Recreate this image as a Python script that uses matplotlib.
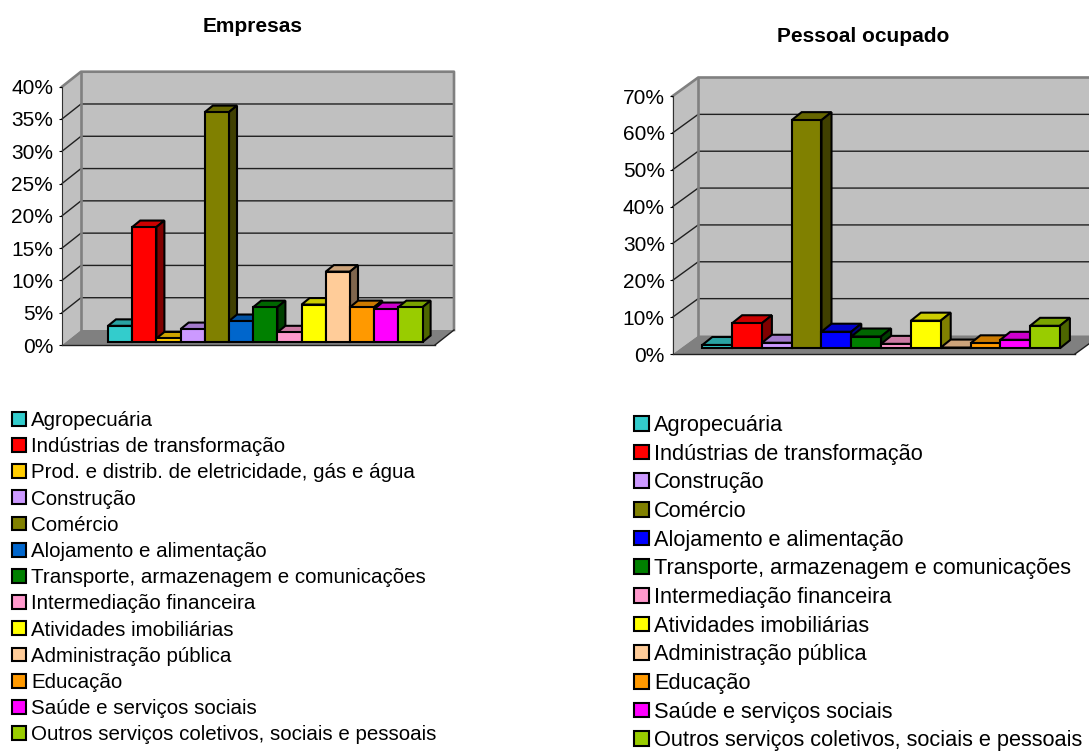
import matplotlib
matplotlib.use('Agg')
import matplotlib.pyplot as plt
from matplotlib.patches import Patch, Polygon

plt.rcParams['font.family'] = ['Liberation Sans', 'DejaVu Sans']

# Data
empresas_labels = ['Agropecuária', 'Indústrias de transformação',
                   'Prod. e distrib. de eletricidade, gás e água', 'Construção',
                   'Comércio', 'Alojamento e alimentação',
                   'Transporte, armazenagem e comunicações', 'Intermediação financeira',
                   'Atividades imobiliárias', 'Administração pública', 'Educação',
                   'Saúde e serviços sociais', 'Outros serviços coletivos, sociais e pessoais']
empresas_values = [2.5, 17.8, 0.55, 2.0, 35.6, 3.25, 5.4, 1.5, 5.8, 10.9, 5.4, 5.1, 5.4]
empresas_colors = ['#33CCCC', '#FF0000', '#FFCC00', '#CC99FF', '#808000', '#0066CC', '#008000',
                   '#FF99CC', '#FFFF00', '#FFCC99', '#FF9900', '#FF00FF', '#99CC00']

pessoal_labels = ['Agropecuária', 'Indústrias de transformação', 'Construção', 'Comércio',
                  'Alojamento e alimentação', 'Transporte, armazenagem e comunicações',
                  'Intermediação financeira', 'Atividades imobiliárias', 'Administração pública',
                  'Educação', 'Saúde e serviços sociais',
                  'Outros serviços coletivos, sociais e pessoais']
pessoal_values = [0.9, 6.8, 1.5, 61.9, 4.5, 3.2, 1.2, 7.5, 0.2, 1.35, 2.3, 6.1]
pessoal_colors = ['#33CCCC', '#FF0000', '#CC99FF', '#808000', '#0000FF', '#008000',
                  '#FF99CC', '#FFFF00', '#FFCC99', '#FF9900', '#FF00FF', '#99CC00']

W, H = 1089, 751


def shade(color, f):
    r, g, b = matplotlib.colors.to_rgb(color)
    return (r * f, g * f, b * f)


def draw_chart(box, ymax, step, values, colors, bar_x0, bar_w, base_px, wall_d, bar_d, pad):
    # box = left, right, bottom, top of the front plane in pixels
    left, right, bottom, top = box
    ax = fig.add_axes([left / W, 1 - bottom / H, (right - left) / W, (bottom - top) / H])
    ax.patch.set_visible(False)
    # one x unit is one bar, category i is centered on x = i
    x0 = (left - bar_x0) / bar_w - 0.5
    x1 = (right - bar_x0) / bar_w - 0.5
    ax.set_xlim(x0, x1)
    ax.set_ylim(0, ymax)
    ypx = (bottom - top) / ymax

    def wall(x, y, d=1.0):
        return (x + d * wall_d[0] / bar_w, y + d * wall_d[1] / ypx)

    def add_poly(pts, fc, ec, lw, z):
        ax.add_patch(Polygon(pts, closed=True, fc=fc, ec=ec, lw=lw, zorder=z,
                             clip_on=False, joinstyle='miter'))

    # walls and floor
    add_poly([(x0, 0), wall(x0, 0), wall(x0, ymax), (x0, ymax)], '#C0C0C0', 'none', 0, 1)
    add_poly([wall(x0, 0), wall(x1, 0), wall(x1, ymax), wall(x0, ymax)], '#C0C0C0', 'none', 0, 1)
    add_poly([(x0, 0), (x1, 0), wall(x1, 0), wall(x0, 0)], '#808080', 'none', 0, 1.1)

    # gridlines
    ticks = list(range(0, ymax + 1, step))
    for t in ticks[1:-1]:
        a, b, c = (x0, t), wall(x0, t), wall(x1, t)
        ax.plot([a[0], b[0], c[0]], [a[1], b[1], c[1]], color='#202020', lw=1.0,
                zorder=1.2, clip_on=False)
    # wall frame
    fx = [x0, wall(x0, ymax)[0], wall(x1, ymax)[0], wall(x1, 0)[0]]
    fy = [ymax, wall(x0, ymax)[1], wall(x1, ymax)[1], wall(x1, 0)[1]]
    ax.plot(fx, fy, color='#808080', lw=1.9, zorder=1.3, clip_on=False)
    a, b = wall(x0, 0), wall(x0, ymax)
    ax.plot([a[0], b[0]], [a[1], b[1]], color='#808080', lw=1.9, zorder=1.3, clip_on=False)
    a = wall(x1, 0)
    ax.plot([x1, a[0]], [0, a[1]], color='#202020', lw=1.0, zorder=1.3, clip_on=False)
    ax.plot([x0, x1], [0, 0], color='#202020', lw=1.0, zorder=1.3, clip_on=False)

    # bars
    base = base_px / ypx
    ddx = bar_d[0] / bar_w
    ddy = bar_d[1] / ypx
    for i, (v, c) in enumerate(zip(values, colors)):
        l, r = i - 0.5, i + 0.5
        t = base + v
        z = 2 + i * 0.01
        add_poly([(l, t), (r, t), (r + ddx, t + ddy), (l + ddx, t + ddy)],
                 shade(c, 0.8), 'black', 1.5, z)
        add_poly([(r, base), (r + ddx, base + ddy), (r + ddx, t + ddy), (r, t)],
                 shade(c, 0.5), 'black', 1.5, z)
        add_poly([(l, base), (r, base), (r, t), (l, t)], c, 'black', 1.5, z)

    ax.set_xticks([])
    ax.set_yticks(ticks)
    ax.set_yticklabels(['%d%%' % t for t in ticks])
    ax.tick_params(axis='y', length=2.5, width=0.8, pad=pad, labelsize=15, colors='#000000')
    for s in ['top', 'right', 'bottom']:
        ax.spines[s].set_visible(False)
    ax.spines['left'].set_color('#303030')
    return ax


def draw_legend(labels, colors, x, y, fontsize, spacing):
    handles = [Patch(fc=c, ec='black', lw=1.5) for c in colors]
    fig.legend(handles, labels, loc='upper left', bbox_to_anchor=(x / W, 1 - y / H),
               frameon=False, fontsize=fontsize, borderpad=0, borderaxespad=0,
               handlelength=0.66, handleheight=0.66, handletextpad=0.24,
               labelspacing=spacing, labelcolor='#000000')


fig = plt.figure(figsize=(W / 100, H / 100), dpi=100, facecolor='white')

draw_chart((62, 435, 345, 86.7), 40, 5, empresas_values, empresas_colors,
           108, 24.2, 3, (19, 15), (8, 6.5), 3.8)
draw_chart((672.7, 1075, 354, 96), 70, 10, pessoal_values, pessoal_colors,
           702.3, 29.8, 5.7, (25.5, 18.5), (10, 8), 3.2)

fig.text(253 / W, 1 - 27 / H, 'Empresas', ha='center', va='center', fontweight='bold',
         fontsize=15, color='#000000')
fig.text(863 / W, 1 - 37 / H, 'Pessoal ocupado', ha='center', va='center', fontweight='bold',
         fontsize=15, color='#000000')

draw_legend(empresas_labels, empresas_colors, 12.5, 411, 14.8, 0.35)
draw_legend(pessoal_labels, pessoal_colors, 634.5, 415, 15.65, 0.353)

# Save the file
fig.savefig('out.png', dpi=100)
